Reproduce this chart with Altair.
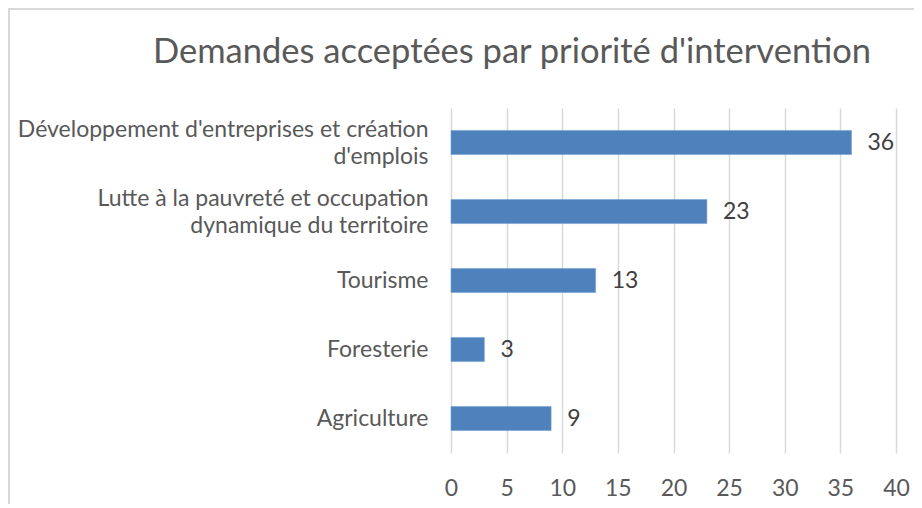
import altair as alt
import pandas as pd

categories = [
    "Développement d'entreprises et création\nd'emplois",
    "Lutte à la pauvreté et occupation\ndynamique du territoire",
    "Tourisme",
    "Foresterie",
    "Agriculture",
]
values = [36, 23, 13, 3, 9]
x_ticks = [0, 5, 10, 15, 20, 25, 30, 35, 40]
title_text = "Demandes acceptées par priorité d'intervention"

df = pd.DataFrame({"cat": categories, "val": values})
title_df = pd.DataFrame({"t": [title_text]})

FONT = "Lato"
GREY = "#595959"

y_enc = alt.Y(
    "cat:N",
    sort=categories,
    title=None,
    scale=alt.Scale(paddingInner=0.65, paddingOuter=0.325),
    axis=alt.Axis(
        labelExpr="split(datum.value, '\\n')",
        labelFontSize=23,
        labelFont=FONT,
        labelColor=GREY,
        labelLineHeight=27,
        labelPadding=23,
        labelLimit=600,
        labelOffset={"condition": {"test": "indexof(datum.value, '\\n') >= 0", "value": -13}, "value": 0},
        ticks=False,
        domain=False,
        grid=False,
    ),
)

x_enc = alt.X(
    "val:Q",
    title=None,
    scale=alt.Scale(domain=[0, 40], nice=False),
    axis=alt.Axis(
        values=x_ticks,
        labelFontSize=23,
        labelFont=FONT,
        labelColor=GREY,
        labelPadding=24,
        labelFlush=False,
        ticks=False,
        domain=False,
        grid=True,
        gridColor="#d9d9d9",
        gridWidth=1.5,
    ),
)

bars = alt.Chart(df).mark_bar(color="#4f81bd", stroke="#6f9bd1", strokeWidth=0.5).encode(
    x=x_enc, y=y_enc
)

labels = alt.Chart(df).mark_text(
    align="left", baseline="middle", dx=16, fontSize=23, font=FONT, color="#404040"
).encode(x="val:Q", y=alt.Y("cat:N", sort=categories), text="val:Q")

title = alt.Chart(title_df).mark_text(
    align="center", baseline="middle", fontSize=34.5, font=FONT, color=GREY
).encode(x=alt.value(61), y=alt.value(-55), text="t:N")

border = alt.Chart(df).mark_rect(
    fill=None, stroke="#d9d9d9", strokeWidth=2
).encode(
    x=alt.value(-442), x2=alt.value(600), y=alt.value(-99), y2=alt.value(500)
)

chart = alt.layer(bars, labels, title, border).properties(
    width=445,
    height=345,
    padding={"left": 443, "top": 100, "right": 18, "bottom": 51},
    autosize=alt.AutoSizeParams(type="none"),
).configure_view(stroke=None)

chart.save("out.html", embed_options={"renderer": "svg", "actions": False})
